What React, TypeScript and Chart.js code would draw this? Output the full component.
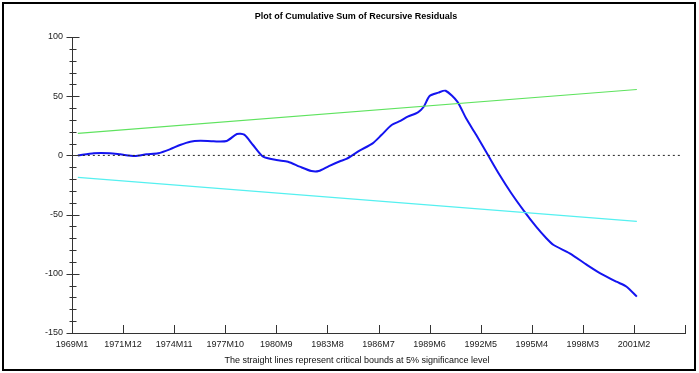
import React, { useEffect, useRef } from 'react';
import { Chart, registerables } from 'chart.js';

Chart.register(...registerables);

// Month index counted from 1969M1 (= 0)
const months = [4, 15, 26, 33, 43, 51, 59, 67, 74, 81, 88, 97, 106, 113, 118, 124, 131, 140, 148, 156, 164, 169, 176, 184, 188, 197, 206, 212, 219, 225, 230, 237, 241, 245, 251, 256, 264, 270, 277, 285, 293, 301, 310, 318, 325, 330, 341, 353, 362, 373, 380, 387];
const cusum = [0, 1.8, 1.8, 0.9, -0.5, 0.9, 1.8, 5.1, 8.8, 11.6, 12.3, 11.9, 12.2, 18.1, 17.5, 8.8, -1.1, -3.9, -5.3, -9.5, -13.2, -13.2, -9.0, -4.7, -3.0, 4.0, 10.2, 17.2, 25.7, 29.1, 32.7, 36.4, 41.1, 50.2, 53.0, 54.6, 45.4, 31.3, 17.2, 0.3, -16.6, -32.0, -47.5, -60.2, -70.0, -75.7, -82.7, -92.6, -99.6, -106.7, -110.9, -119.3];

const boundMonths = [4, 387];
const upperBound = [18.55, 55.65];
const lowerBound = [-18.55, -55.65];
const zeroMonths = [4, 417];
const zeroValues = [0, 0];

const xTickLabels = ['1969M1', '1971M12', '1974M11', '1977M10', '1980M9', '1983M8', '1986M7', '1989M6', '1992M5', '1995M4', '1998M3', '2001M2', ''];
const xStep = 35;
const yMin = -150;
const yMax = 100;

const titleText = 'Plot of Cumulative Sum of Recursive Residuals';
const footText = 'The straight lines represent critical bounds at 5% significance level';

const pts = (xs: number[], ys: number[]) => xs.map((x, i) => ({ x, y: ys[i] }));

const decorPlugin = {
  id: 'decor',
  beforeDraw(chart: any) {
    const ctx = chart.ctx;
    ctx.save();
    ctx.fillStyle = '#ffffff';
    ctx.fillRect(0, 0, chart.width, chart.height);
    ctx.restore();
  },
  afterDraw(chart: any) {
    const ctx = chart.ctx;
    const xs = chart.scales.x;
    const ys = chart.scales.y;
    const area = chart.chartArea;
    ctx.save();
    ctx.strokeStyle = '#333333';
    ctx.lineWidth = 1;
    ctx.beginPath();
    // x ticks (upward)
    xs.ticks.forEach((t: any) => {
      const px = Math.round(xs.getPixelForValue(t.value)) + 0.5;
      ctx.moveTo(px, area.bottom);
      ctx.lineTo(px, area.bottom - 8);
    });
    // y ticks crossing the axis
    const ax = Math.round(area.left) + 0.5;
    for (let v = yMin; v <= yMax; v += 10) {
      const py = Math.round(ys.getPixelForValue(v)) + 0.5;
      const major = v % 50 === 0;
      ctx.moveTo(ax - (major ? 6 : 3), py);
      ctx.lineTo(ax + (major ? 7 : 4), py);
    }
    ctx.stroke();

    ctx.fillStyle = '#000000';
    ctx.textAlign = 'center';
    ctx.textBaseline = 'middle';
    ctx.font = 'bold 9px "Liberation Sans", Arial, sans-serif';
    ctx.fillText(titleText, 356, 17);
    ctx.font = '9px "Liberation Sans", Arial, sans-serif';
    ctx.fillStyle = '#111111';
    ctx.fillText(footText, 357, 361);

    ctx.strokeStyle = '#000000';
    ctx.lineWidth = 2;
    ctx.strokeRect(3, 3, 692, 367);
    ctx.restore();
  },
};

export default function App() {
  const ref = useRef<HTMLCanvasElement | null>(null);
  useEffect(() => {
    if (!ref.current) return;
    const chart = new Chart(ref.current, {
      type: 'line',
      data: {
        datasets: [
          {
            data: pts(zeroMonths, zeroValues),
            borderColor: '#222222',
            borderWidth: 1,
            borderDash: [2, 3],
            pointRadius: 0,
          },
          {
            data: pts(boundMonths, upperBound),
            borderColor: '#5fe35f',
            borderWidth: 1.2,
            pointRadius: 0,
          },
          {
            data: pts(boundMonths, lowerBound),
            borderColor: '#55f0f0',
            borderWidth: 1.2,
            pointRadius: 0,
          },
          {
            data: pts(months, cusum),
            borderColor: '#1414f0',
            borderWidth: 2,
            pointRadius: 0,
            tension: 0.25,
          },
        ],
      },
      options: {
        animation: false,
        responsive: false,
        maintainAspectRatio: false,
        layout: { padding: { left: 0, right: 14, top: 37, bottom: 0 } },
        plugins: { legend: { display: false }, tooltip: { enabled: false }, title: { display: false } },
        scales: {
          x: {
            type: 'linear',
            min: 0,
            max: 420,
            grid: { display: false, drawTicks: false },
            border: { display: true, color: '#333333', width: 1 },
            ticks: {
              stepSize: xStep,
              autoSkip: false,
              maxRotation: 0,
              padding: 6,
              color: '#222222',
              font: { family: '"Liberation Sans", Arial, sans-serif', size: 9 },
              callback: (v: any) => xTickLabels[Math.round(Number(v) / xStep)] ?? '',
            },
            afterFit: (s: any) => { s.height = 40; },
          },
          y: {
            min: yMin,
            max: yMax,
            grid: { display: false, drawTicks: false },
            border: { display: true, color: '#333333', width: 1 },
            ticks: {
              stepSize: 50,
              padding: 9,
              color: '#222222',
              font: { family: '"Liberation Sans", Arial, sans-serif', size: 9 },
            },
            afterFit: (s: any) => { s.width = 72; },
          },
        },
      },
      plugins: [decorPlugin],
    });
    return () => chart.destroy();
  }, []);
  return (
    <div style={{ position: 'absolute', left: 0, top: 0, width: 699, height: 373 }}>
      <canvas ref={ref} width={699} height={373} />
    </div>
  );
}
